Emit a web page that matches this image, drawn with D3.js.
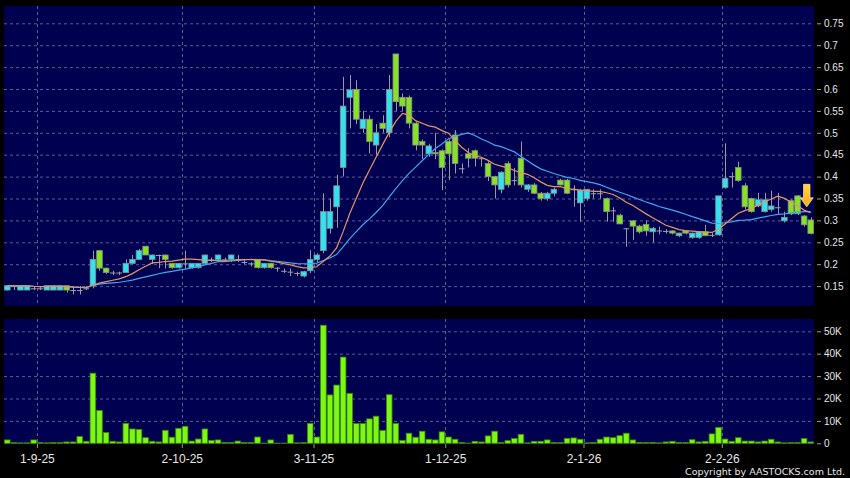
<!DOCTYPE html>
<html>
<head>
<meta charset="utf-8">
<script src="https://cdn.jsdelivr.net/npm/d3@7"></script>
<style>
  html, body { margin: 0; padding: 0; background: #000; }
  svg { display: block; }
</style>
</head>
<body>
<div id="chart"></div>
<script>
// Daily candles, index 0 = 26-8-25 (one entry per trading day)

let open_px = [
  .141, .150, .141, .141, .145, .145, .141, .141, .141, .151,
  .141, .141, .145, .151, .231, .191, .181, .181, .181, .202,
  .211, .241, .211, .221, .221, .202, .192, .202, .192, .192,
  .202, .211, .211, .211, .211, .211, .205, .202, .211, .192,
  .202, .192, .185, .183, .180, .173, .185, .211, .231, .282,
  .331, .421, .581, .599, .510, .531, .472, .522, .500, .680,
  .581, .581, .522, .480, .452, .455, .459, .480, .495, .419,
  .452, .459, .442, .430, .400, .371, .430, .392, .442, .371,
  .381, .362, .350, .362, .392, .392, .371, .340, .350, .362,
  .362, .350, .323, .312, .282, .299, .287, .291, .274, .277,
  .276, .276, .265, .276, .261, .261, .274, .267, .267, .375,
  .401, .421, .379, .350, .333, .320, .325, .330, .299, .345,
  .356, .310, .301
];

let high_px = [
  .152, .151, .151, .151, .150, .150, .151, .151, .151, .151,
  .150, .150, .150, .231, .231, .192, .185, .183, .211, .221,
  .235, .242, .222, .222, .222, .203, .202, .231, .202, .202,
  .222, .215, .222, .215, .222, .221, .211, .205, .212, .202,
  .203, .193, .190, .190, .183, .185, .232, .225, .362, .350,
  .404, .628, .632, .620, .550, .540, .520, .540, .632, .680,
  .590, .585, .525, .485, .475, .500, .462, .485, .506, .430,
  .465, .462, .445, .435, .402, .412, .435, .420, .480, .383,
  .385, .365, .365, .375, .395, .395, .380, .372, .372, .371,
  .371, .352, .330, .315, .282, .301, .290, .300, .285, .286,
  .280, .278, .272, .278, .272, .276, .290, .272, .356, .476,
  .410, .434, .385, .352, .363, .363, .368, .363, .320, .348,
  .358, .312, .307
];

let low_px = [
  .140, .141, .141, .141, .141, .141, .141, .141, .141, .135,
  .131, .131, .141, .145, .185, .178, .175, .175, .181, .200,
  .211, .221, .200, .191, .190, .190, .190, .190, .190, .190,
  .200, .205, .205, .205, .205, .205, .200, .195, .190, .190,
  .190, .183, .180, .173, .173, .170, .180, .205, .225, .270,
  .283, .400, .510, .520, .500, .453, .450, .500, .490, .550,
  .550, .510, .460, .440, .445, .440, .369, .392, .407, .407,
  .421, .423, .423, .390, .350, .362, .375, .380, .375, .365,
  .360, .345, .345, .355, .380, .360, .331, .297, .345, .350,
  .350, .297, .297, .292, .240, .255, .270, .265, .250, .268,
  .270, .268, .262, .268, .258, .258, .265, .262, .265, .372,
  .375, .388, .325, .318, .330, .318, .320, .315, .295, .312,
  .312, .286, .268
];

let close_px = [
  .151, .150, .151, .151, .145, .145, .151, .151, .151, .141,
  .141, .141, .145, .211, .191, .181, .181, .181, .202, .211,
  .231, .221, .221, .221, .211, .192, .202, .202, .202, .202,
  .221, .211, .221, .211, .221, .211, .205, .202, .192, .202,
  .192, .192, .185, .183, .180, .183, .211, .221, .320, .320,
  .379, .561, .598, .531, .531, .480, .500, .510, .599, .571,
  .561, .522, .472, .472, .470, .452, .421, .452, .430, .419,
  .442, .442, .442, .400, .381, .410, .381, .392, .381, .381,
  .362, .350, .362, .371, .381, .362, .371, .369, .371, .362,
  .362, .320, .323, .292, .282, .287, .274, .276, .282, .277,
  .276, .271, .271, .271, .271, .274, .265, .267, .356, .396,
  .401, .391, .331, .320, .347, .347, .333, .330, .307, .315,
  .315, .290, .270
];

// volume in thousands of shares
let volume_k = [
  1.5, 0.3, 0.2, 0.2, 1.5, 0.3, 0.2, 0.3, 0.3, 0.6,
  0.6, 3.0, 0.9, 31.3, 14.6, 4.8, 0.9, 0.6, 8.9, 6.4,
  6.2, 2.5, 0.9, 0.6, 5.8, 2.7, 6.7, 7.6, 1.0, 1.9,
  6.4, 1.3, 1.5, 0.4, 0.4, 1.0, 0.4, 0.4, 2.8, 0.1,
  1.5, 0.1, 0.1, 4.0, 0.2, 0.3, 8.9, 2.8, 52.7, 21.6,
  26.0, 38.5, 22.3, 8.8, 8.8, 10.9, 12.1, 5.7, 21.7, 8.8,
  1.3, 4.5, 2.7, 5.4, 1.8, 1.5, 5.1, 2.8, 1.8, 0.4,
  0.1, 0.9, 0.6, 3.3, 5.4, 0.4, 1.2, 2.2, 4.0, 0.2,
  0.9, 0.9, 1.5, 0.3, 0.3, 2.2, 2.4, 1.8, 0.2, 0.4,
  1.8, 2.8, 2.5, 3.4, 4.5, 1.5, 0.4, 0.3, 0.4, 0.2,
  0.6, 0.9, 0.4, 0.3, 1.6, 0.6, 0.9, 4.2, 7.1, 1.9,
  0.9, 2.5, 1.0, 1.0, 0.6, 1.0, 1.8, 0.6, 0.2, 0.3,
  0.3, 2.1, 0.6
];

let tick_index = [4, 26, 46, 66, 87, 108];
let tick_labels = ['1-9-25', '2-10-25', '3-11-25', '1-12-25', '2-1-26', '2-2-26'];
let price_ticks = [0.15, 0.2, 0.25, 0.3, 0.35, 0.4, 0.45, 0.5, 0.55, 0.6, 0.65, 0.7, 0.75];
let volume_ticks = [0, 10, 20, 30, 40, 50];

let ma_short = 10; // orange
let ma_long = 20;  // blue

// sell signal arrow
let signal_index = 121.4;
let signal_price = 0.331;

let chart_width = 850;
let chart_height = 478;
let panel_left = 4;
let panel_right = 814;

let n_days = close_px.length;

let svg = d3.select('#chart')
    .append('svg')
    .attr('width', chart_width)
    .attr('height', chart_height)
    .style('font-family', '"DejaVu Sans", sans-serif');

svg.append('rect')
    .attr('width', chart_width)
    .attr('height', chart_height)
    .attr('fill', '#000');

// scales

let x_scale = d3.scaleLinear()
    .domain([-0.5, n_days - 0.5])
    .range([panel_left, panel_right]);

let y_price = d3.scaleLinear()
    .domain([0.15, 0.75])
    .range([286.1, 23.3]);

let y_vol = d3.scaleLinear()
    .domain([0, 50])
    .range([443.3, 331.3]);

// panels

svg.append('rect')
    .attr('x', panel_left).attr('y', 6)
    .attr('width', panel_right - panel_left).attr('height', 300)
    .attr('fill', '#000050');

svg.append('rect')
    .attr('x', panel_left).attr('y', 319)
    .attr('width', panel_right - panel_left).attr('height', 124.5)
    .attr('fill', '#000050');

// grid

let grid_color = '#5c5c94';

svg.append('g').selectAll('line')
    .data(price_ticks)
    .enter()
    .append('line')
    .attr('x1', panel_left).attr('x2', panel_right)
    .attr('y1', d => y_price(d) + 0.5).attr('y2', d => y_price(d) + 0.5)
    .attr('stroke', grid_color)
    .attr('stroke-dasharray', '3,3');

svg.append('g').selectAll('line')
    .data(volume_ticks.filter(d => d > 0))
    .enter()
    .append('line')
    .attr('x1', panel_left).attr('x2', panel_right)
    .attr('y1', d => y_vol(d) + 0.5).attr('y2', d => y_vol(d) + 0.5)
    .attr('stroke', grid_color)
    .attr('stroke-dasharray', '3,3');

let vgrid = svg.append('g');
[[6, 306], [319, 443.5]].forEach(span => {
    vgrid.append('g').selectAll('line')
        .data(tick_index)
        .enter()
        .append('line')
        .attr('x1', d => Math.round(x_scale(d + 0.5)) + 0.5)
        .attr('x2', d => Math.round(x_scale(d + 0.5)) + 0.5)
        .attr('y1', span[0]).attr('y2', span[1])
        .attr('stroke', grid_color)
        .attr('stroke-dasharray', '3,3');
});

// candles

let up_color = '#2ee3f2';
let down_color = '#84e322';
let idx = d3.range(n_days);
let body_w = 5.6;

let candles = svg.append('g');

candles.selectAll('line')
    .data(idx)
    .enter()
    .append('line')
    .attr('x1', i => Math.round(x_scale(i)) + 0.5)
    .attr('x2', i => Math.round(x_scale(i)) + 0.5)
    .attr('y1', i => y_price(high_px[i]))
    .attr('y2', i => y_price(low_px[i]))
    .attr('stroke', '#9a9a9a');

candles.selectAll('rect')
    .data(idx)
    .enter()
    .append('rect')
    .attr('x', i => x_scale(i) - body_w / 2)
    .attr('width', body_w)
    .attr('y', i => y_price(Math.max(open_px[i], close_px[i])))
    .attr('height', i => Math.max(1, Math.abs(y_price(open_px[i]) - y_price(close_px[i]))))
    .attr('fill', i => close_px[i] > open_px[i] ? up_color : (close_px[i] < open_px[i] ? down_color : '#a0a0a0'))
    .attr('stroke', i => close_px[i] == open_px[i] ? 'none' : '#8c8c8c')
    .attr('stroke-width', 0.8);

// moving averages

function moving_average(values, period) {
    return values.map((d, i) => d3.mean(values.slice(Math.max(0, i - period + 1), i + 1)));
}

let ma_line = d3.line()
    .x((d, i) => x_scale(i))
    .y(d => y_price(d));

svg.append('path')
    .datum(moving_average(close_px, ma_long))
    .attr('d', ma_line)
    .attr('fill', 'none')
    .attr('stroke', '#3ea6f2')
    .attr('stroke-width', 1.2);

svg.append('path')
    .datum(moving_average(close_px, ma_short))
    .attr('d', ma_line)
    .attr('fill', 'none')
    .attr('stroke', '#e89462')
    .attr('stroke-width', 1.2);

// signal arrow

let grad = svg.append('defs').append('linearGradient')
    .attr('id', 'arrow_grad')
    .attr('x1', 0).attr('y1', 0).attr('x2', 0).attr('y2', 1);
grad.append('stop').attr('offset', '0%').attr('stop-color', '#ffd83c');
grad.append('stop').attr('offset', '100%').attr('stop-color', '#ffa81a');

svg.append('path')
    .attr('transform', 'translate(' + x_scale(signal_index) + ',' + y_price(signal_price) + ')')
    .attr('d', 'M-3.2,-22.5 L3.2,-22.5 L3.2,-9 L6.5,-9 L0,0 L-6.5,-9 L-3.2,-9 Z')
    .attr('fill', 'url(#arrow_grad)')
    .attr('stroke', '#fff0a0')
    .attr('stroke-width', 0.7);

// volume bars

svg.append('g').selectAll('rect')
    .data(idx)
    .enter()
    .append('rect')
    .attr('x', i => x_scale(i) - body_w / 2)
    .attr('width', body_w)
    .attr('y', i => y_vol(volume_k[i]))
    .attr('height', i => y_vol(0) - y_vol(volume_k[i]))
    .attr('fill', '#7cf812')
    .attr('stroke', '#3b8a08')
    .attr('stroke-width', 0.8);

// axes

function style_axis(g, size) {
    g.select('.domain').remove();
    g.selectAll('.tick line').attr('stroke', '#9a9a9a');
    g.selectAll('.tick text')
        .attr('fill', '#e6e6e6')
        .style('font-size', size + 'px');
}

let price_axis = d3.axisRight(y_price)
    .tickValues(price_ticks)
    .tickSize(4)
    .tickPadding(3)
    .tickFormat(d => String(+d.toFixed(2)));
svg.append('g')
    .attr('transform', 'translate(817,0)')
    .call(price_axis)
    .call(g => style_axis(g, 10));

let vol_axis = d3.axisRight(y_vol)
    .tickValues(volume_ticks)
    .tickSize(4)
    .tickPadding(3)
    .tickFormat(d => d == 0 ? '0' : d + 'K');
svg.append('g')
    .attr('transform', 'translate(817,0)')
    .call(vol_axis)
    .call(g => style_axis(g, 10));

let date_axis = d3.axisBottom(x_scale)
    .tickValues(tick_index.map(d => d + 0.5))
    .tickSize(4)
    .tickPadding(6)
    .tickFormat((d, i) => tick_labels[i]);
svg.append('g')
    .attr('transform', 'translate(0,444)')
    .call(date_axis)
    .call(g => style_axis(g, 12));

svg.append('text')
    .attr('x', 845)
    .attr('y', 474.5)
    .attr('text-anchor', 'end')
    .attr('fill', '#e6e6e6')
    .style('font-size', '9.5px')
    .text('Copyright by AASTOCKS.com Ltd.');
</script>
</body>
</html>
